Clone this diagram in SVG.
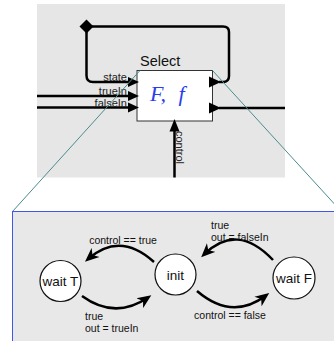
<svg xmlns="http://www.w3.org/2000/svg" width="334" height="341" viewBox="0 0 334 341">
<style>
.wire{fill:none;stroke:#000;stroke-width:2.5}
.port{fill:#000}
.plabel{font-family:"Liberation Sans",Arial,sans-serif;font-size:11px;fill:#222}
.tlabel{font-family:"Liberation Sans",Arial,sans-serif;font-size:10.5px;fill:#111}
.sname{font-family:"Liberation Sans",Arial,sans-serif;font-size:13.5px;fill:#111;text-anchor:middle}
.state{fill:#fff;stroke:#111;stroke-width:1.2}
.arc{fill:none;stroke:#000;stroke-width:2.5}
.zoomline{stroke:#4a8c8c;stroke-width:1;fill:none}
</style>
<defs>
<marker id="ah" viewBox="-14 -6.5 15 13" refX="-4" refY="0" markerWidth="15" markerHeight="13" markerUnits="userSpaceOnUse" orient="auto">
<path d="M0,0 L-14,-6 L-10,0 L-14,6 Z" fill="#000"/>
</marker>
</defs>
<rect x="37" y="4" width="248" height="173.5" fill="#e6e6e6"/>
<g id="connectors">
<path class="wire" d="M219,82 H223 Q229,82 229,76 V32 Q229,26.5 223,26.5 H86.5 V75.5 Q86.5,82 93,82 H131"/>
<path class="wire" d="M37,96 H131"/>
<path class="wire" d="M37,107.5 H131"/>
<path class="wire" d="M219,108 H285"/>
<path class="wire" d="M174.5,177.5 V128"/>
</g>
<g id="select">
<rect x="137" y="70.5" width="75.5" height="50.5" fill="#fff" stroke="#333" stroke-width="1"/>
<text x="140" y="66" font-family="Liberation Sans,Arial,sans-serif" font-size="14.5" fill="#111">Select</text>
<text x="150" y="101" font-family="Liberation Serif,Times New Roman,serif" font-style="italic" font-size="22" fill="#2a3cf0" word-spacing="7">F, f</text>
<polygon class="port" points="128,77 139,82 128,87"/>
<polygon class="port" points="128,91 139,96 128,101"/>
<polygon class="port" points="128,102.5 139,107.5 128,112.5"/>
<polygon class="port" points="209,76.5 221,82 209,87.5"/>
<polygon class="port" points="209,102.5 221,108 209,113.5"/>
<polygon class="port" points="169.5,131.5 174.5,119 179.5,131.5"/>
<polygon points="86.5,19.5 93.5,26.5 86.5,33.5 79.5,26.5" fill="#000"/>
<text class="plabel" x="127" y="81" text-anchor="end">state</text>
<text class="plabel" x="127" y="94.5" text-anchor="end">trueIn</text>
<text class="plabel" x="127" y="107" text-anchor="end">falseIn</text>
<text class="plabel" font-size="13" transform="translate(175.5,131) rotate(90)">control</text>
</g>
<g id="zoom-lines">
<line class="zoomline" x1="140" y1="70.5" x2="12.5" y2="211.5"/>
<line class="zoomline" x1="212.5" y1="70.5" x2="350" y2="221"/>
</g>
<g id="fsm">
<rect x="12.5" y="211.5" width="340" height="140" fill="#e8e8e8" stroke="#4455ee" stroke-width="1"/>
<g id="connectors-fsm">
<path class="arc" d="M154,262 Q120,231 88,259" marker-end="url(#ah)"/>
<path class="arc" d="M82,296 Q115,320 148,297.5" marker-end="url(#ah)"/>
<path class="arc" d="M273,260 Q237,222 204,254.5" marker-end="url(#ah)"/>
<path class="arc" d="M197,291 Q232,321 266,295.5" marker-end="url(#ah)"/>
<text class="tlabel" x="123" y="244" text-anchor="middle">control == true</text>
<text class="tlabel" x="85" y="320">true</text>
<text class="tlabel" x="85" y="332">out = trueIn</text>
<text class="tlabel" x="211" y="228.5">true</text>
<text class="tlabel" x="211" y="240.5">out = falseIn</text>
<text class="tlabel" x="230" y="318.5" text-anchor="middle">control == false</text>
</g>
<g id="waitT">
<circle class="state" cx="60.5" cy="281" r="20.5"/>
<text class="sname" x="60.5" y="285.5">wait T</text>
</g>
<g id="init">
<circle class="state" cx="175.5" cy="274.5" r="20.5"/>
<text class="sname" x="175.5" y="280">init</text>
</g>
<g id="waitF">
<circle class="state" cx="294" cy="278" r="21"/>
<text class="sname" x="294" y="282.5">wait F</text>
</g>
</g>
</svg>
